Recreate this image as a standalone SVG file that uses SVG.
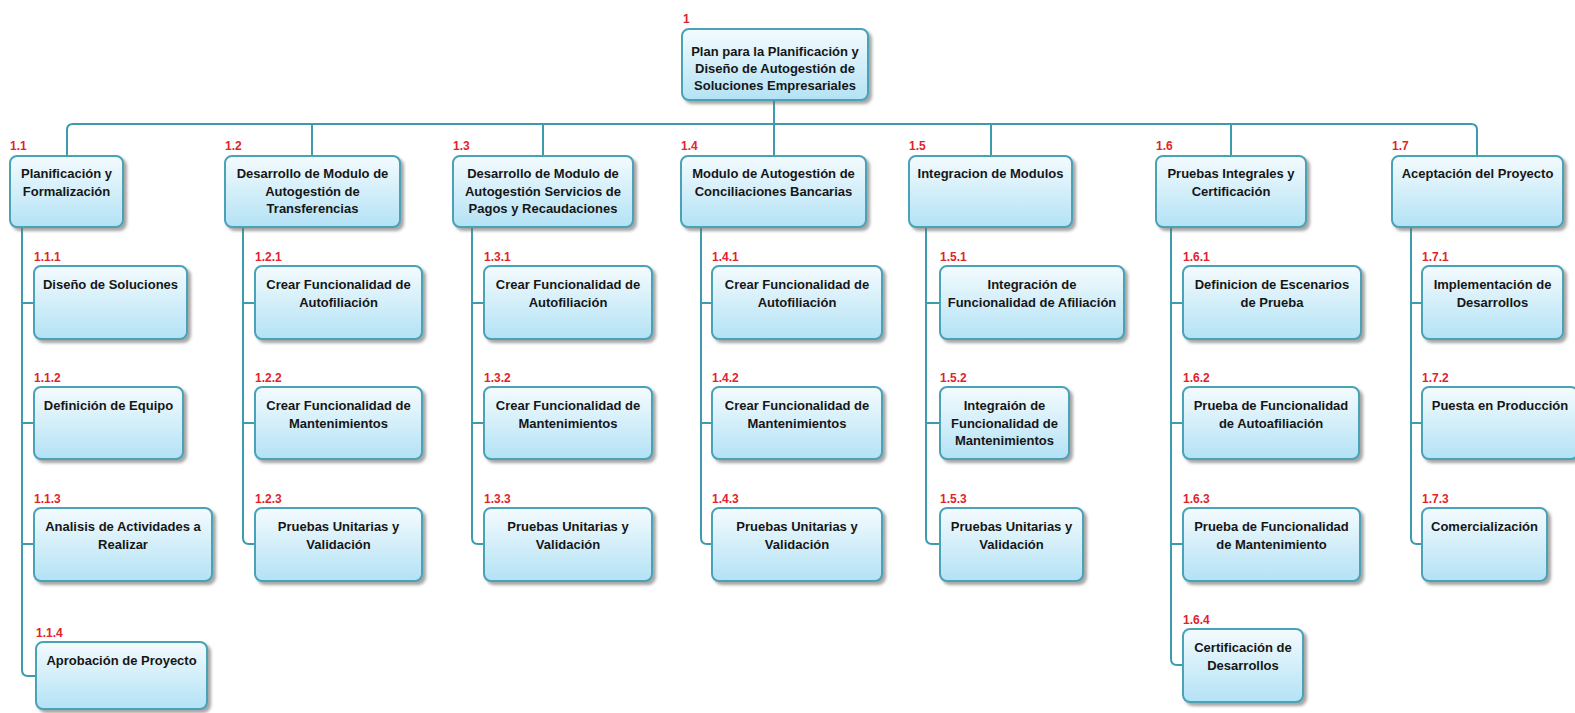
<svg xmlns="http://www.w3.org/2000/svg" width="1575" height="713" viewBox="0 0 1575 713">
  <defs>
    <linearGradient id="boxFill" x1="0" y1="0" x2="0" y2="1">
      <stop offset="0" stop-color="#f4fbfe"/>
      <stop offset="1" stop-color="#b3e2f5"/>
    </linearGradient>
    <filter id="shadow" x="-10%" y="-10%" width="125%" height="130%">
      <feGaussianBlur in="SourceAlpha" stdDeviation="1.5"/>
      <feOffset dx="3" dy="3" result="off"/>
      <feFlood flood-color="#6b6b6b" flood-opacity="0.6"/>
      <feComposite in2="off" operator="in"/>
      <feMerge>
        <feMergeNode/>
        <feMergeNode in="SourceGraphic"/>
      </feMerge>
    </filter>
  </defs>
  <style>
    .box { fill: url(#boxFill); stroke: #4aa2b6; stroke-width: 2; filter: url(#shadow); }
    .t { font-family: "Liberation Sans", Arial, sans-serif; font-size: 13px; font-weight: bold; fill: #161616; text-anchor: middle; }
    .id { font-family: "Liberation Sans", Arial, sans-serif; font-size: 12px; font-weight: bold; fill: #e3232c; }
    .conn { fill: none; stroke: #3d9bb0; stroke-width: 2; }
  </style>
  <rect width="1575" height="713" fill="#ffffff"/>

  <!-- connectors -->
  <g id="connectors" class="conn">
    <path d="M774,100 V156"/>
    <path d="M67,156 V130 Q67,124 73,124 H1471 Q1477,124 1477,130 V156"/>
    <path d="M312,124 V156"/>
    <path d="M543,124 V156"/>
    <path d="M991,124 V156"/>
    <path d="M1231,124 V156"/>
    <!-- branch 1.1 -->
    <path d="M22,227 V670 Q22,676 28,676 H36"/>
    <path d="M22,303 H34 M22,423 H34 M22,544 H34"/>
    <!-- branch 1.2 -->
    <path d="M243,227 V538 Q243,544 249,544 H255"/>
    <path d="M243,303 H255 M243,423 H255"/>
    <!-- branch 1.3 -->
    <path d="M472,227 V538 Q472,544 478,544 H484"/>
    <path d="M472,303 H484 M472,423 H484"/>
    <!-- branch 1.4 -->
    <path d="M701,227 V538 Q701,544 707,544 H712"/>
    <path d="M701,303 H712 M701,423 H712"/>
    <!-- branch 1.5 -->
    <path d="M926,227 V538 Q926,544 932,544 H940"/>
    <path d="M926,303 H940 M926,423 H940"/>
    <!-- branch 1.6 -->
    <path d="M1171,227 V659 Q1171,665 1177,665 H1183"/>
    <path d="M1171,303 H1183 M1171,423 H1183 M1171,544 H1183"/>
    <!-- branch 1.7 -->
    <path d="M1411,227 V538 Q1411,544 1417,544 H1422"/>
    <path d="M1411,303 H1422 M1411,423 H1422"/>
  </g>

  <!-- root -->
  <g id="n1">
    <rect class="box" x="682" y="29" width="186" height="71" rx="7"/>
    <text class="id" x="683" y="23">1</text>
    <text class="t" x="775" y="56">Plan para la Planificación y</text>
    <text class="t" x="775" y="73">Diseño de Autogestión de</text>
    <text class="t" x="775" y="90">Soluciones Empresariales</text>
  </g>

  <!-- level 1 -->
  <g id="n1_1">
    <rect class="box" x="10" y="156" width="113" height="71" rx="7"/>
    <text class="id" x="10" y="150">1.1</text>
    <text class="t" x="66.5" y="178">Planificación y</text>
    <text class="t" x="66.5" y="195.5">Formalización</text>
  </g>
  <g id="n1_2">
    <rect class="box" x="225" y="156" width="175" height="71" rx="7"/>
    <text class="id" x="225" y="150">1.2</text>
    <text class="t" x="312.5" y="178">Desarrollo de Modulo de</text>
    <text class="t" x="312.5" y="195.5">Autogestión de</text>
    <text class="t" x="312.5" y="213">Transferencias</text>
  </g>
  <g id="n1_3">
    <rect class="box" x="453" y="156" width="180" height="71" rx="7"/>
    <text class="id" x="453" y="150">1.3</text>
    <text class="t" x="543" y="178">Desarrollo de Modulo de</text>
    <text class="t" x="543" y="195.5">Autogestión Servicios de</text>
    <text class="t" x="543" y="213">Pagos y Recaudaciones</text>
  </g>
  <g id="n1_4">
    <rect class="box" x="681" y="156" width="185" height="71" rx="7"/>
    <text class="id" x="681" y="150">1.4</text>
    <text class="t" x="773.5" y="178">Modulo de Autogestión de</text>
    <text class="t" x="773.5" y="195.5">Conciliaciones Bancarias</text>
  </g>
  <g id="n1_5">
    <rect class="box" x="909" y="156" width="163" height="71" rx="7"/>
    <text class="id" x="909" y="150">1.5</text>
    <text class="t" x="990.5" y="178">Integracion de Modulos</text>
  </g>
  <g id="n1_6">
    <rect class="box" x="1156" y="156" width="150" height="71" rx="7"/>
    <text class="id" x="1156" y="150">1.6</text>
    <text class="t" x="1231" y="178">Pruebas Integrales y</text>
    <text class="t" x="1231" y="195.5">Certificación</text>
  </g>
  <g id="n1_7">
    <rect class="box" x="1392" y="156" width="171" height="71" rx="7"/>
    <text class="id" x="1392" y="150">1.7</text>
    <text class="t" x="1477.5" y="178">Aceptación del Proyecto</text>
  </g>

  <!-- 1.1 children -->
  <g id="n1_1_1">
    <rect class="box" x="34" y="266" width="153" height="73" rx="7"/>
    <text class="id" x="34" y="261">1.1.1</text>
    <text class="t" x="110.5" y="289">Diseño de Soluciones</text>
  </g>
  <g id="n1_1_2">
    <rect class="box" x="34" y="387" width="149" height="72" rx="7"/>
    <text class="id" x="34" y="382">1.1.2</text>
    <text class="t" x="108.5" y="410">Definición de Equipo</text>
  </g>
  <g id="n1_1_3">
    <rect class="box" x="34" y="508" width="178" height="73" rx="7"/>
    <text class="id" x="34" y="503">1.1.3</text>
    <text class="t" x="123" y="531">Analisis de Actividades a</text>
    <text class="t" x="123" y="548.5">Realizar</text>
  </g>
  <g id="n1_1_4">
    <rect class="box" x="36" y="642" width="171" height="67" rx="7"/>
    <text class="id" x="36" y="637">1.1.4</text>
    <text class="t" x="121.5" y="665">Aprobación de Proyecto</text>
  </g>

  <!-- 1.2 children -->
  <g id="n1_2_1">
    <rect class="box" x="255" y="266" width="167" height="73" rx="7"/>
    <text class="id" x="255" y="261">1.2.1</text>
    <text class="t" x="338.5" y="289">Crear Funcionalidad de</text>
    <text class="t" x="338.5" y="306.5">Autofiliación</text>
  </g>
  <g id="n1_2_2">
    <rect class="box" x="255" y="387" width="167" height="72" rx="7"/>
    <text class="id" x="255" y="382">1.2.2</text>
    <text class="t" x="338.5" y="410">Crear Funcionalidad de</text>
    <text class="t" x="338.5" y="427.5">Mantenimientos</text>
  </g>
  <g id="n1_2_3">
    <rect class="box" x="255" y="508" width="167" height="73" rx="7"/>
    <text class="id" x="255" y="503">1.2.3</text>
    <text class="t" x="338.5" y="531">Pruebas Unitarias y</text>
    <text class="t" x="338.5" y="548.5">Validación</text>
  </g>

  <!-- 1.3 children -->
  <g id="n1_3_1">
    <rect class="box" x="484" y="266" width="168" height="73" rx="7"/>
    <text class="id" x="484" y="261">1.3.1</text>
    <text class="t" x="568" y="289">Crear Funcionalidad de</text>
    <text class="t" x="568" y="306.5">Autofiliación</text>
  </g>
  <g id="n1_3_2">
    <rect class="box" x="484" y="387" width="168" height="72" rx="7"/>
    <text class="id" x="484" y="382">1.3.2</text>
    <text class="t" x="568" y="410">Crear Funcionalidad de</text>
    <text class="t" x="568" y="427.5">Mantenimientos</text>
  </g>
  <g id="n1_3_3">
    <rect class="box" x="484" y="508" width="168" height="73" rx="7"/>
    <text class="id" x="484" y="503">1.3.3</text>
    <text class="t" x="568" y="531">Pruebas Unitarias y</text>
    <text class="t" x="568" y="548.5">Validación</text>
  </g>

  <!-- 1.4 children -->
  <g id="n1_4_1">
    <rect class="box" x="712" y="266" width="170" height="73" rx="7"/>
    <text class="id" x="712" y="261">1.4.1</text>
    <text class="t" x="797" y="289">Crear Funcionalidad de</text>
    <text class="t" x="797" y="306.5">Autofiliación</text>
  </g>
  <g id="n1_4_2">
    <rect class="box" x="712" y="387" width="170" height="72" rx="7"/>
    <text class="id" x="712" y="382">1.4.2</text>
    <text class="t" x="797" y="410">Crear Funcionalidad de</text>
    <text class="t" x="797" y="427.5">Mantenimientos</text>
  </g>
  <g id="n1_4_3">
    <rect class="box" x="712" y="508" width="170" height="73" rx="7"/>
    <text class="id" x="712" y="503">1.4.3</text>
    <text class="t" x="797" y="531">Pruebas Unitarias y</text>
    <text class="t" x="797" y="548.5">Validación</text>
  </g>

  <!-- 1.5 children -->
  <g id="n1_5_1">
    <rect class="box" x="940" y="266" width="184" height="73" rx="7"/>
    <text class="id" x="940" y="261">1.5.1</text>
    <text class="t" x="1032" y="289">Integración de</text>
    <text class="t" x="1032" y="306.5">Funcionalidad de Afiliación</text>
  </g>
  <g id="n1_5_2">
    <rect class="box" x="940" y="387" width="129" height="72" rx="7"/>
    <text class="id" x="940" y="382">1.5.2</text>
    <text class="t" x="1004.5" y="410">Integraión de</text>
    <text class="t" x="1004.5" y="427.5">Funcionalidad de</text>
    <text class="t" x="1004.5" y="445">Mantenimientos</text>
  </g>
  <g id="n1_5_3">
    <rect class="box" x="940" y="508" width="143" height="73" rx="7"/>
    <text class="id" x="940" y="503">1.5.3</text>
    <text class="t" x="1011.5" y="531">Pruebas Unitarias y</text>
    <text class="t" x="1011.5" y="548.5">Validación</text>
  </g>

  <!-- 1.6 children -->
  <g id="n1_6_1">
    <rect class="box" x="1183" y="266" width="178" height="73" rx="7"/>
    <text class="id" x="1183" y="261">1.6.1</text>
    <text class="t" x="1272" y="289">Definicion de Escenarios</text>
    <text class="t" x="1272" y="306.5">de Prueba</text>
  </g>
  <g id="n1_6_2">
    <rect class="box" x="1183" y="387" width="176" height="72" rx="7"/>
    <text class="id" x="1183" y="382">1.6.2</text>
    <text class="t" x="1271" y="410">Prueba de Funcionalidad</text>
    <text class="t" x="1271" y="427.5">de Autoafiliación</text>
  </g>
  <g id="n1_6_3">
    <rect class="box" x="1183" y="508" width="177" height="73" rx="7"/>
    <text class="id" x="1183" y="503">1.6.3</text>
    <text class="t" x="1271.5" y="531">Prueba de Funcionalidad</text>
    <text class="t" x="1271.5" y="548.5">de Mantenimiento</text>
  </g>
  <g id="n1_6_4">
    <rect class="box" x="1183" y="629" width="120" height="73" rx="7"/>
    <text class="id" x="1183" y="624">1.6.4</text>
    <text class="t" x="1243" y="652">Certificación de</text>
    <text class="t" x="1243" y="669.5">Desarrollos</text>
  </g>

  <!-- 1.7 children -->
  <g id="n1_7_1">
    <rect class="box" x="1422" y="266" width="141" height="73" rx="7"/>
    <text class="id" x="1422" y="261">1.7.1</text>
    <text class="t" x="1492.5" y="289">Implementación de</text>
    <text class="t" x="1492.5" y="306.5">Desarrollos</text>
  </g>
  <g id="n1_7_2">
    <rect class="box" x="1422" y="387" width="156" height="72" rx="7"/>
    <text class="id" x="1422" y="382">1.7.2</text>
    <text class="t" x="1500" y="410">Puesta en Producción</text>
  </g>
  <g id="n1_7_3">
    <rect class="box" x="1422" y="508" width="125" height="73" rx="7"/>
    <text class="id" x="1422" y="503">1.7.3</text>
    <text class="t" x="1484.5" y="531">Comercialización</text>
  </g>
</svg>
